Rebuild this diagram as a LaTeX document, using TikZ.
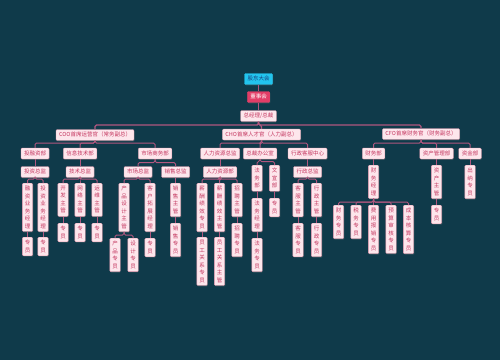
\documentclass[tikz,border=0pt]{standalone}
\usepackage{fontspec}
\newfontfamily\cjk{Noto Sans CJK SC}
\usetikzlibrary{shadows}
\definecolor{bgc}{HTML}{0F3A4A}
\definecolor{boxfill}{HTML}{FDE6EC}
\definecolor{boxline}{HTML}{E89AB0}
\definecolor{boxtext}{HTML}{C4365F}
\definecolor{linec}{HTML}{B0577F}
\definecolor{rootfill}{HTML}{22C4EE}
\definecolor{roottext}{HTML}{1A3E7A}
\definecolor{boardfill}{HTML}{E23D67}
\tikzset{
  base/.style={draw=boxline, line width=0.3pt, fill=boxfill, text=boxtext, rounded corners=1pt,
    font=\cjk\fontsize{5.5}{7.5}\selectfont,
    drop shadow={shadow xshift=0.6pt, shadow yshift=-0.8pt, opacity=0.35}},
  hb/.style={base, inner xsep=3pt, inner ysep=2.6pt, text height=4.6pt, text depth=1.1pt},
  vb/.style={base, align=center, inner xsep=2.4pt, inner ysep=3pt, anchor=north},
  conn/.style={draw=linec, line width=1pt, rounded corners=1.5pt},
  topconn/.style={conn, line width=1.4pt}
}
\newcommand\orgbus[3]{\foreach \c in {#3}{\draw[conn] (#1.south) -- (#1.south |- #2) -| (\c.north);}}
\begin{document}
\begin{tikzpicture}[x=1pt,y=-1pt]
\fill[bgc] (0,0) rectangle (500,360);
\useasboundingbox (0,0) rectangle (500,360);

% top
\node[hb, fill=rootfill, draw=rootfill, text=roottext] (gd) at (258.5,79) {股东大会};
\node[hb, fill=boardfill, draw=boardfill, text=white] (dsh) at (258.5,97) {董事会};
\node[hb] (zjl) at (258.5,116) {总经理/总裁};

\node[hb] (coo) at (95,135) {COO首席运营官（常务副总）};
\node[hb] (cho) at (261.5,134.5) {CHO首席人才官（人力副总）};
\node[hb] (cfo) at (421,134) {CFO首席财务官（财务副总）};

% level 2
\node[hb] (trz) at (35,153.5) {投融资部};
\node[hb] (xxjs) at (80,153.5) {信息技术部};
\node[hb] (scsw) at (155,153.5) {市场商务部};
\node[hb] (rlzj) at (220,153.5) {人力资源总监};
\node[hb] (zcb) at (260,153.5) {总裁办公室};
\node[hb] (xzkf) at (307.5,153.5) {行政客服中心};
\node[hb] (cwb) at (373.5,153.5) {财务部};
\node[hb] (zcgl) at (436.5,153.5) {资产管理部};
\node[hb] (zjb) at (470,153.5) {资金部};

% level 3 (horizontal)
\node[hb] (tzzj) at (35,172) {投资总监};
\node[hb] (jszj) at (80,172) {技术总监};
\node[hb] (sczj) at (138,172) {市场总监};
\node[hb] (xszj) at (175.5,172) {销售总监};
\node[hb] (rlb) at (220,172) {人力资源部};
\node[hb] (xzzj) at (307.5,172) {行政总监};

% COO branch verticals
\node[vb] (rzjl) at (27.5,183) {融\\资\\业\\务\\经\\理};
\node[vb] (tzjl) at (43,183) {投\\资\\业\\务\\经\\理};
\node[vb] (ry1) at (27.5,237) {专\\员};
\node[vb] (ry2) at (43,237) {专\\员};
\node[vb] (kf) at (63,183) {开\\发\\主\\管};
\node[vb] (wl) at (80,183) {网\\络\\主\\管};
\node[vb] (yw) at (97,183) {运\\维\\主\\管};
\node[vb] (ry3) at (63,223) {专\\员};
\node[vb] (ry4) at (80,223) {专\\员};
\node[vb] (ry5) at (97,223) {专\\员};
\node[vb] (cpsj) at (124,183) {产\\品\\设\\计\\主\\管};
\node[vb] (khtz) at (150,183) {客\\户\\拓\\展\\经\\理};
\node[vb] (cpzy) at (115,238) {产\\品\\专\\员};
\node[vb] (sjzy) at (133,238) {设\\计\\专\\员};
\node[vb] (ry6) at (150,238) {专\\员};
\node[vb] (xszg) at (175.5,183) {销\\售\\主\\管};
\node[vb] (xszy) at (175.5,223) {销\\售\\专\\员};

% CHO branch verticals
\node[vb] (xczy) at (202,183) {薪\\酬\\绩\\效\\专\\员};
\node[vb] (xczg) at (219.5,183) {薪\\酬\\绩\\效\\主\\管};
\node[vb] (zpzg) at (237,183) {招\\聘\\主\\管};
\node[vb] (ygzy) at (202,237) {员\\工\\关\\系\\专\\员};
\node[vb] (yggz) at (219.5,237) {员\\工\\关\\系\\主\\管};
\node[vb] (zpzy) at (237,223) {招\\聘\\专\\员};
\node[vb] (fwb) at (257,165) {法\\务\\部};
\node[vb] (wxb) at (274.5,165) {文\\宣\\部};
\node[vb] (fwjl) at (257,198) {法\\务\\经\\理};
\node[vb] (fwzy) at (257,238) {法\\务\\专\\员};
\node[vb] (ry7) at (274.5,198) {专\\员};
\node[vb] (kfzg) at (298,183) {客\\服\\主\\管};
\node[vb] (xzzg) at (316.5,183) {行\\政\\主\\管};
\node[vb] (kfzy) at (298,223) {客\\服\\专\\员};
\node[vb] (xzzy) at (316.5,223) {行\\政\\专\\员};

% CFO branch verticals
\node[vb] (cwjl) at (373.5,165) {财\\务\\经\\理};
\node[vb] (cwzy) at (338.5,205) {财\\务\\专\\员};
\node[vb] (swzy) at (356,205) {税\\务\\专\\员};
\node[vb] (fybx) at (373.5,205) {费\\用\\报\\销\\专\\员};
\node[vb] (yssh) at (391,205) {预\\算\\审\\核\\专\\员};
\node[vb] (cbhs) at (408.5,205) {成\\本\\核\\算\\专\\员};
\node[vb] (zczg) at (436.5,165) {资\\产\\主\\管};
\node[vb] (ry8) at (436.5,205) {专\\员};
\node[vb] (cnzy) at (470,165) {出\\纳\\专\\员};

% bus coordinates
\coordinate (b0) at (0,125);
\coordinate (b1) at (0,143);
\coordinate (b2) at (0,179);
\coordinate (b3) at (0,162.5);
\coordinate (b4) at (0,235);
\coordinate (b5) at (0,161.5);
\coordinate (b6) at (0,202);

% connectors
\draw[conn] (gd.south) -- (dsh.north);
\draw[conn] (dsh.south) -- (zjl.north);
\foreach \c in {coo,cho,cfo}{\draw[topconn] (zjl.south) -- (zjl.south |- b0) -| (\c.north);}
\orgbus{coo}{b1}{trz,xxjs,scsw}
\orgbus{cho}{b1}{rlzj,zcb,xzkf}
\orgbus{cfo}{b1}{cwb,zcgl,zjb}

\draw[conn] (trz.south) -- (tzzj.north);
\orgbus{tzzj}{b2}{rzjl,tzjl}
\draw[conn] (rzjl.south) -- (ry1.north);
\draw[conn] (tzjl.south) -- (ry2.north);

\draw[conn] (xxjs.south) -- (jszj.north);
\orgbus{jszj}{b2}{kf,wl,yw}
\draw[conn] (kf.south) -- (ry3.north);
\draw[conn] (wl.south) -- (ry4.north);
\draw[conn] (yw.south) -- (ry5.north);

\orgbus{scsw}{b3}{sczj,xszj}
\orgbus{sczj}{b2}{cpsj,khtz}
\orgbus{cpsj}{b4}{cpzy,sjzy}
\draw[conn] (khtz.south) -- (ry6.north);
\draw[conn] (xszj.south) -- (xszg.north);
\draw[conn] (xszg.south) -- (xszy.north);

\draw[conn] (rlzj.south) -- (rlb.north);
\orgbus{rlb}{b2}{xczy,xczg,zpzg}
\draw[conn] (xczy.south) -- (ygzy.north);
\draw[conn] (xczg.south) -- (yggz.north);
\draw[conn] (zpzg.south) -- (zpzy.north);

\orgbus{zcb}{b5}{fwb,wxb}
\draw[conn] (fwb.south) -- (fwjl.north);
\draw[conn] (fwjl.south) -- (fwzy.north);
\draw[conn] (wxb.south) -- (ry7.north);

\draw[conn] (xzkf.south) -- (xzzj.north);
\orgbus{xzzj}{b2}{kfzg,xzzg}
\draw[conn] (kfzg.south) -- (kfzy.north);
\draw[conn] (xzzg.south) -- (xzzy.north);

\draw[conn] (cwb.south) -- (cwjl.north);
\orgbus{cwjl}{b6}{cwzy,swzy,fybx,yssh,cbhs}
\draw[conn] (zcgl.south) -- (zczg.north);
\draw[conn] (zczg.south) -- (ry8.north);
\draw[conn] (zjb.south) -- (cnzy.north);
\end{tikzpicture}
\end{document}
